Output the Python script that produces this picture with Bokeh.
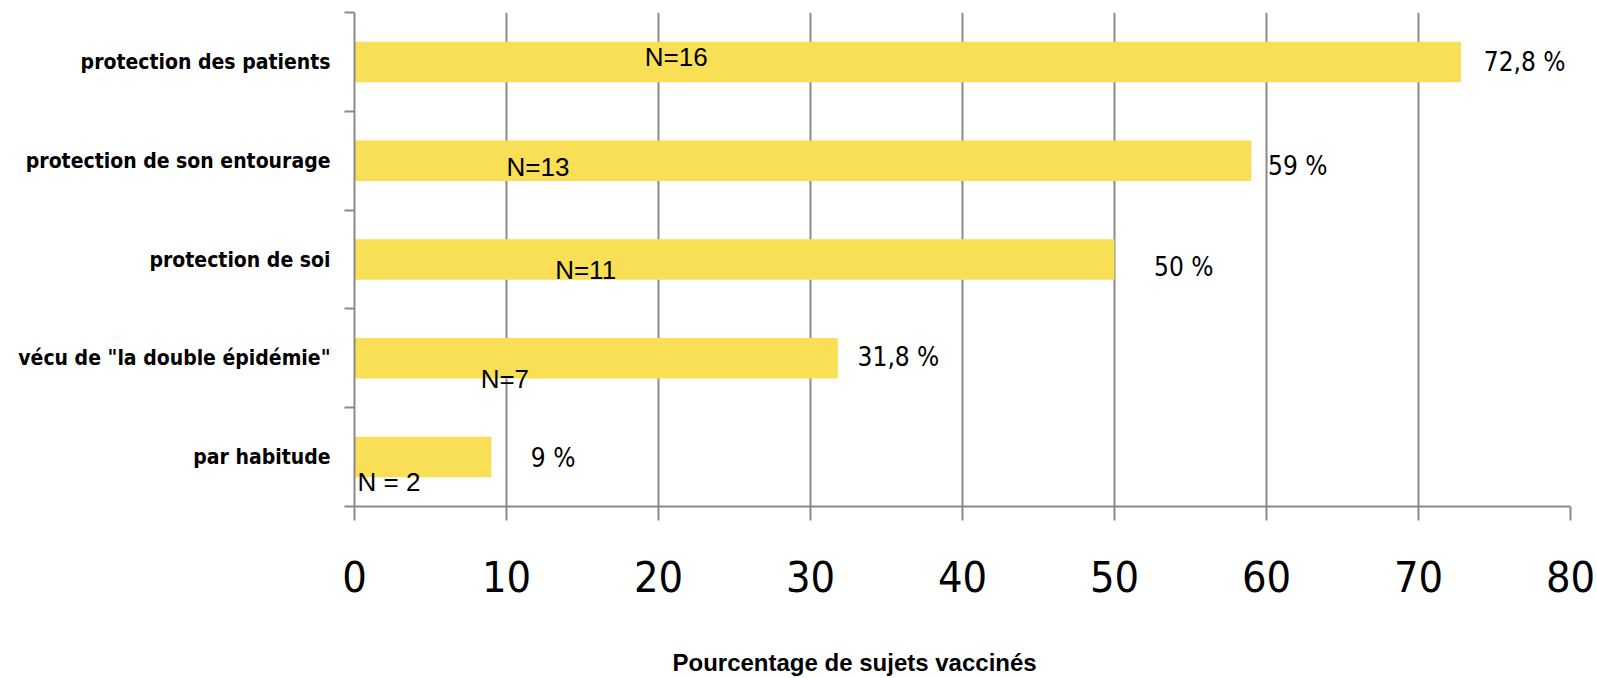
from bokeh.plotting import figure
from bokeh.models import ColumnDataSource, Range1d, FixedTicker, Title
from bokeh.core.properties import value
from bokeh.embed import file_html
from bokeh.resources import INLINE

categories = ["protection des patients", "protection de son entourage", "protection de soi",
              "vécu de \"la double épidémie\"", "par habitude"]
percent = [72.8, 59, 50, 31.8, 9]
value_labels = ["72,8 %", "59 %", "50 %", "31,8 %", "9 %"]
value_label_x = [74.3, 60.1, 52.6, 33.1, 11.6]
value_label_dy = [0.0, -0.05, -0.08, 0.01, -0.01]
n_labels = ["N=16", "N=13", "N=11", "N=7", "N = 2"]
n_label_x = [19.1, 10.0, 13.2, 8.3, 0.2]
n_label_dy = [0.05, -0.06, -0.11, -0.21, -0.25]
x_ticks = [0, 10, 20, 30, 40, 50, 60, 70, 80]

n = len(categories)
ypos = [n - i - 0.5 for i in range(n)]

GRAY = "#8a8a8a"
YELLOW = "#F9DF55"
NARROW = "'DejaVu Sans Condensed', 'Liberation Sans', sans-serif"

p = figure(width=1597, height=678, output_backend="svg", toolbar_location=None,
           x_range=Range1d(0, 80), y_range=Range1d(0, n),
           min_border_left=354, min_border_top=12, min_border_right=27, min_border_bottom=172)
p.outline_line_color = None
p.background_fill_color = "white"
p.border_fill_color = "white"

src = ColumnDataSource(dict(y=ypos, v=percent))
p.hbar(y="y", right="v", left=0, height=0.41, source=src, fill_color=YELLOW, line_color=None)

vsrc = ColumnDataSource(dict(x=value_label_x, y=[a + b for a, b in zip(ypos, value_label_dy)], t=value_labels))
p.text(x="x", y="y", text="t", source=vsrc, text_font=value(NARROW), text_font_size="26px",
       text_align="left", text_baseline="middle", text_color="black")

nsrc = ColumnDataSource(dict(x=n_label_x, y=[a + b for a, b in zip(ypos, n_label_dy)], t=n_labels))
p.text(x="x", y="y", text="t", source=nsrc, text_font=value("Liberation Sans"), text_font_size="26px",
       text_align="left", text_baseline="middle", text_color="black")

# x axis
p.xaxis.ticker = FixedTicker(ticks=x_ticks)
p.xaxis.major_tick_out = 14
p.xaxis.major_tick_in = 0
p.xaxis.minor_tick_out = 0
p.xaxis.axis_line_color = GRAY
p.xaxis.axis_line_width = 2
p.xaxis.major_tick_line_color = GRAY
p.xaxis.major_tick_line_width = 2
p.xaxis.major_label_text_font = NARROW
p.xaxis.major_label_text_font_size = "43px"
p.xaxis.major_label_text_color = "black"
p.xaxis.major_label_standoff = 40
# blank spacer label to push the (off-centre) axis title further down
p.xaxis.axis_label = "\u00a0"
p.xaxis.axis_label_text_font_size = "10px"
p.xaxis.axis_label_standoff = 36

# y axis
p.yaxis.ticker = FixedTicker(ticks=ypos, minor_ticks=list(range(n + 1)))
p.yaxis.major_label_overrides = {y: c for y, c in zip(ypos, categories)}
p.yaxis.major_tick_out = 0
p.yaxis.major_tick_in = 0
p.yaxis.minor_tick_out = 10
p.yaxis.minor_tick_in = 0
p.yaxis.minor_tick_line_color = GRAY
p.yaxis.minor_tick_line_width = 2
p.yaxis.axis_line_color = GRAY
p.yaxis.axis_line_width = 2
p.yaxis.major_label_text_font = NARROW
p.yaxis.major_label_text_font_style = "bold"
p.yaxis.major_label_text_font_size = "21px"
p.yaxis.major_label_text_color = "black"
p.yaxis.major_label_standoff = 14

p.xgrid.ticker = FixedTicker(ticks=x_ticks)
p.xgrid.grid_line_color = GRAY
p.xgrid.grid_line_width = 2
p.ygrid.grid_line_color = None

p.add_layout(Title(text="Pourcentage de sujets vaccinés", align="left", offset=318,
                   text_font="Liberation Sans", text_font_size="24px", text_font_style="bold",
                   text_color="black", standoff=4), "below")

open("out.html", "w").write(file_html(p, INLINE))
